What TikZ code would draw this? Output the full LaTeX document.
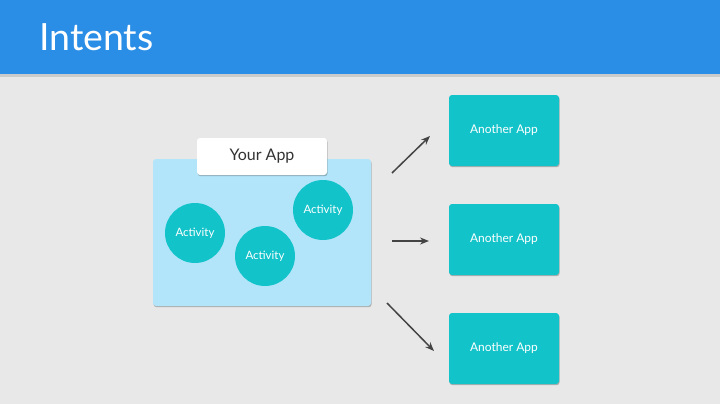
\documentclass[tikz,border=0pt]{standalone}
\usepackage{fontspec}
\setmainfont{Lato}
\usetikzlibrary{shadows,arrows.meta}
\definecolor{bg}{HTML}{E8E8E8}
\definecolor{hdr}{HTML}{2A8DE6}
\definecolor{appbg}{HTML}{B3E5FA}
\definecolor{teal}{HTML}{12C3CA}
\definecolor{arr}{HTML}{444444}
\definecolor{txt}{HTML}{333333}
\tikzset{
  shd/.style={drop shadow={shadow xshift=0.6pt,shadow yshift=-1.2pt,opacity=0.25,fill=black}},
  appbox/.style={draw=none,fill=appbg,rounded corners=3pt,minimum width=218pt,minimum height=147pt,shd},
  labelbox/.style={fill=white,rounded corners=3pt,minimum width=130pt,minimum height=37pt,shd,text=txt,font=\fontsize{16}{19}\selectfont},
  activity/.style={circle,fill=teal,minimum size=60pt,inner sep=0pt,text=white,font=\fontsize{11.5}{13}\selectfont},
  other/.style={fill=teal,rounded corners=3pt,minimum width=110pt,minimum height=71pt,shd,text=white,font=\fontsize{12}{14}\selectfont},
  conn/.style={draw=arr,line width=1.5pt,-{Stealth[length=9pt,width=7pt]}}
}
\begin{document}
\begin{tikzpicture}[x=1pt,y=-1pt]
\fill[bg] (0,0) rectangle (720,404);
\useasboundingbox (0,0) rectangle (720,404);
\fill[black,opacity=0.12] (0,74) rectangle (720,77);
\node[fill=hdr,minimum width=720pt,minimum height=74pt,inner sep=0pt,anchor=north west] (header) at (0,0) {};
\node[anchor=base west,text=white,font=\fontsize{37.5}{42}\selectfont,inner sep=0pt] (title) at (39,51) {Intents};
\node[appbox] (app) at (262,232.5) {};
\node[labelbox] (label) at (262,156.5) {Your App};
\node[activity] (act1) at (195,233) {Activity};
\node[activity] (act2) at (265,256) {Activity};
\node[activity] (act3) at (323,210) {Activity};
\node[other] (o1) at (504,130.5) {Another App};
\node[other] (o2) at (504,239.5) {Another App};
\node[other] (o3) at (504,348.5) {Another App};
\coordinate (s1) at (392,173); \coordinate (e1) at (430,136);
\coordinate (s2) at (392,241); \coordinate (e2) at (429,241);
\coordinate (s3) at (387,303); \coordinate (e3) at (434,351);
\draw[conn] (s1) -- (e1);
\draw[conn] (s2) -- (e2);
\draw[conn] (s3) -- (e3);
\end{tikzpicture}
\end{document}
